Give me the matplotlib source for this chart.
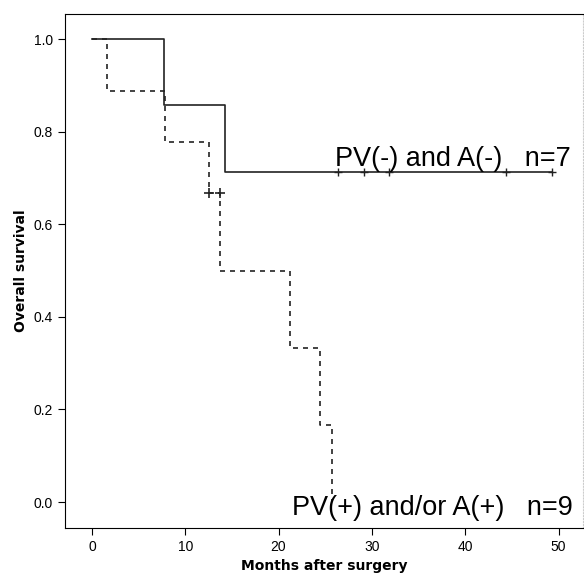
import numpy as np
import matplotlib.pyplot as plt

# --- Kaplan-Meier steps ---
neg_t = [0, 7.7, 14.3, 49.3]
neg_s = [1.0, 0.857, 0.714, 0.714]
neg_cens_t = [26.4, 29.2, 31.8, 44.4, 49.3]
neg_cens_s = [0.714, 0.714, 0.714, 0.714, 0.714]

pos_t = [0, 1.6, 7.8, 12.5, 13.7, 21.2, 24.4, 25.7]
pos_s = [1.0, 0.889, 0.778, 0.667, 0.5, 0.333, 0.167, 0.0]
pos_cens_t = [12.5, 13.7]
pos_cens_s = [0.667, 0.667]

xticks = [0, 10, 20, 30, 40, 50]
yticks = [0.0, 0.2, 0.4, 0.6, 0.8, 1.0]

fig = plt.figure(figsize=(5.84, 5.78), dpi=100)
ax = fig.add_axes([0.111, 0.0865, 0.887, 0.889])

ax.step(neg_t, neg_s, where='post', color='#222222', lw=1.2)
ax.plot(neg_cens_t, neg_cens_s, '+', color='#222222', ms=6, mew=1)

ax.step(pos_t, pos_s, where='post', color='#222222', lw=1.2, linestyle=(0, (3, 3)))
ax.plot(pos_cens_t, pos_cens_s, '+', color='#222222', ms=7, mew=1.2)

lab_font = 'Liberation Sans'
ax.text(26.0, 0.725, "PV(-) and A(-)   n=7", fontsize=19.5, family=lab_font,
        va='baseline', ha='left')
ax.text(21.4, -0.028, "PV(+) and/or A(+)   n=9", fontsize=19.5, family=lab_font,
        va='baseline', ha='left')

ax.set_xlim(-2.9, 52.6)
ax.set_ylim(-0.056, 1.054)
ax.set_xticks(xticks)
ax.set_yticks(yticks)
ax.set_yticklabels([f"{v:.1f}" for v in yticks])
ax.tick_params(direction='out', length=5, labelsize=10)
for lbl in ax.get_xticklabels() + ax.get_yticklabels():
    lbl.set_family(lab_font)
ax.set_xlabel("Months after surgery", fontweight='bold', fontsize=10)
ax.set_ylabel("Overall survival", fontweight='bold', fontsize=10)
ax.spines['right'].set_color('#cccccc')
ax.spines['right'].set_linestyle(':')

fig.savefig('out.png', dpi=100)
